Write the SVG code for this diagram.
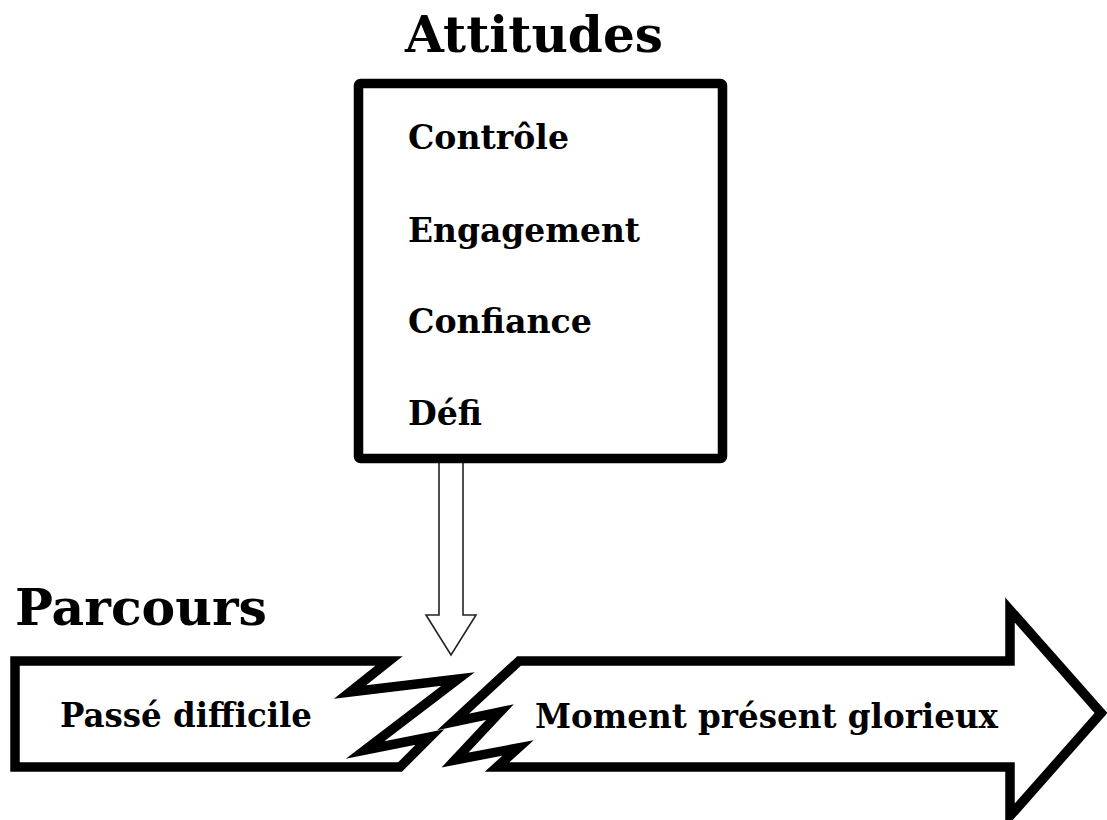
<svg xmlns="http://www.w3.org/2000/svg" width="1107" height="820" viewBox="0 0 1107 820">
<style>
.t{font-family:"DejaVu Serif","Liberation Serif",serif;font-weight:bold;fill:#000}
.shape{fill:#fff;stroke:#000;stroke-width:9.5;stroke-linejoin:miter;stroke-miterlimit:20}
.thin{fill:#fff;stroke:#222;stroke-width:1.6;stroke-linejoin:miter}
</style>
<rect width="1107" height="820" fill="#fff"/>
<g id="title-attitudes"><text class="t" x="405" y="52" font-size="50" textLength="258" lengthAdjust="spacingAndGlyphs">Attitudes</text></g>
<g id="connectors">
<path class="thin" d="M439,463 L439,615 L426,615 L451,655 L476,615 L463,615 L463,463"/>
</g>
<g id="attitudes-box">
<rect class="shape" x="358.5" y="83.5" width="364" height="375" rx="2"/>
<text class="t" x="408" y="149" font-size="34" textLength="161" lengthAdjust="spacingAndGlyphs">Contrôle</text>
<text class="t" x="408" y="242" font-size="34" textLength="232" lengthAdjust="spacingAndGlyphs">Engagement</text>
<text class="t" x="408" y="333" font-size="34" textLength="184" lengthAdjust="spacingAndGlyphs">Confiance</text>
<text class="t" x="408" y="425" font-size="34" textLength="74" lengthAdjust="spacingAndGlyphs">Défi</text>
</g>
<g id="title-parcours"><text class="t" x="15" y="625" font-size="50" textLength="252" lengthAdjust="spacingAndGlyphs">Parcours</text></g>
<g id="passe">
<path class="shape" d="M15,661 L389,661 L350,692 L458,679 L365,750 L430,737 L400,767 L15,767 Z"/>
<text class="t" x="60" y="727" font-size="33" textLength="252" lengthAdjust="spacingAndGlyphs">Passé difficile</text>
</g>
<g id="present">
<path class="shape" d="M519,661 L1010,661 L1010,610 L1101,713 L1010,816 L1010,767 L497,767 L518,748 L455,760 L500,712 L453,722 Z"/>
<text class="t" x="535" y="728" font-size="33" textLength="463" lengthAdjust="spacingAndGlyphs">Moment présent glorieux</text>
</g>
</svg>
